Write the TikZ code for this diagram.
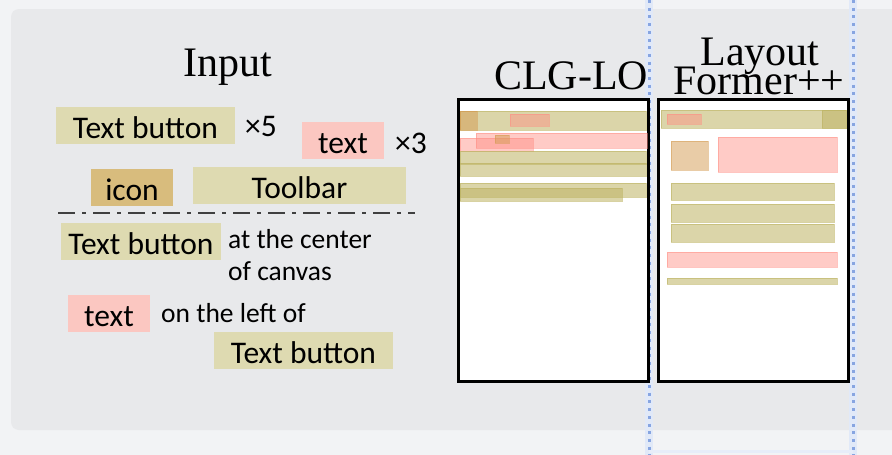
\documentclass[tikz,border=0pt]{standalone}
\usepackage{fontspec}
\setmainfont{Liberation Serif}
\newfontfamily\tagfont{Carlito}

\definecolor{bgouter}{RGB}{242,243,245}
\definecolor{bgpanel}{RGB}{232,233,235}
\definecolor{guideblue}{RGB}{135,165,225}
\definecolor{tagolive}{RGB}{222,218,177}
\definecolor{tagpink}{RGB}{251,199,193}
\definecolor{tagicon}{RGB}{216,188,125}
\definecolor{layolive}{RGB}{190,180,100}
\definecolor{laypink}{RGB}{255,140,130}
\definecolor{layorange}{RGB}{213,155,81}

\begin{document}
\begin{tikzpicture}[x=1pt,y=-1pt,
	tag/.style={inner sep=0pt, text height=31pt, text depth=6pt, anchor=base,
		font=\tagfont\fontsize{31.5}{36}\selectfont},
	olivetag/.style={tag, fill=tagolive},
	pinktag/.style={tag, fill=tagpink},
	icontag/.style={tag, fill=tagicon},
	note/.style={inner sep=0pt, anchor=base west, align=left,
		font=\tagfont\fontsize{27.5}{32}\selectfont},
	title/.style={inner sep=0pt, anchor=base, font=\fontsize{42}{44}\selectfont},
	frame/.style={draw=black, fill=white, line width=3pt},
	lolive/.style={fill=layolive, fill opacity=0.55, draw=layolive, draw opacity=0.6, line width=0.8pt},
	lpink/.style={fill=laypink, fill opacity=0.45, draw=laypink, draw opacity=0.5, line width=0.8pt},
	lorange/.style={fill=layorange, fill opacity=0.5, draw=layorange, draw opacity=0.5, line width=0.8pt},
	guide/.style={guideblue, line width=3pt, dash pattern=on 3pt off 4.7pt},
	]
	\useasboundingbox (0,0) rectangle (892,455);

	% background
	\fill[bgouter] (0,0) rectangle (892,455);
	\fill[bgpanel, rounded corners=8pt] (11,9) rectangle (910,430);

	% selection guides
	\draw[guideblue!25, line width=8pt] (649,0) -- (649,455);
	\draw[guideblue!25, line width=8pt] (853,0) -- (853,455);
	\draw[guideblue!20, line width=3pt] (649,451) -- (853,451);
	\draw[guide] (649,0) -- (649,455);
	\draw[guide] (853,0) -- (853,455);

	% titles
	\node[title] (input) at (227.5,76) {Input};
	\node[title] (clg) at (571,89) {CLG-LO};
	\node[title] (lay) at (760,65) {Layout};
	\node[title] (former) at (759,94) {Former++};

	% input elements
	\node[olivetag, minimum width=179pt] (tb1) at (145.5,138) {Text button};
	\node[tag, anchor=base west] (times5) at (245,136) {×5};
	\node[pinktag, minimum width=82pt] (txt1) at (343,153) {text};
	\node[tag, anchor=base west] (times3) at (395,153) {×3};
	\node[icontag, minimum width=82pt] (icon) at (132,200) {icon};
	\node[olivetag, minimum width=213pt] (toolbar) at (299.5,198) {Toolbar};

	\draw[black!75, line width=2pt, dash pattern=on 17pt off 7pt on 4pt off 7pt] (58,213) -- (415,213);

	% constraints
	\node[olivetag, minimum width=160pt] (tb2) at (141,254) {Text button};
	\node[note] (center) at (228,280) {at the center\\of canvas};
	\node[pinktag, minimum width=82pt] (txt2) at (109,326) {text};
	\node[note] (leftof) at (161,322) {on the left of};
	\node[olivetag, minimum width=179pt] (tb3) at (303.5,363) {Text button};

	% CLG-LO layout
	\draw[frame] (458.5,99.5) rectangle (648.5,381.5);
	\draw[lolive] (460,111) rectangle (646,130);
	\draw[lorange] (460,111) rectangle (477,130);
	\draw[lpink] (510,114) rectangle (549,126);
	\draw[lpink] (476,133) rectangle (647,148);
	\draw[lpink] (460,138) rectangle (533,151);
	\draw[lorange] (495,135) rectangle (509,143);
	\draw[lolive] (460,151) rectangle (646,164);
	\draw[lolive] (460,163) rectangle (646,176);
	\draw[lolive] (460,183) rectangle (646,197);
	\draw[lolive] (460,188) rectangle (622,201);

	% LayoutFormer++ layout
	\draw[frame] (658.5,99.5) rectangle (848.5,381.5);
	\draw[lolive] (661,110) rectangle (846,128);
	\draw[lolive] (822,110) rectangle (846,128);
	\draw[lpink] (667,114) rectangle (701,124);
	\draw[lorange] (671,141) rectangle (708,170);
	\draw[lpink] (718,137) rectangle (837,172);
	\draw[lolive] (671,183) rectangle (834,200);
	\draw[lolive] (671,204) rectangle (834,222);
	\draw[lolive] (671,224) rectangle (834,242);
	\draw[lpink] (667,252) rectangle (837,267);
	\draw[lolive] (667,278) rectangle (837,284);
\end{tikzpicture}
\end{document}
